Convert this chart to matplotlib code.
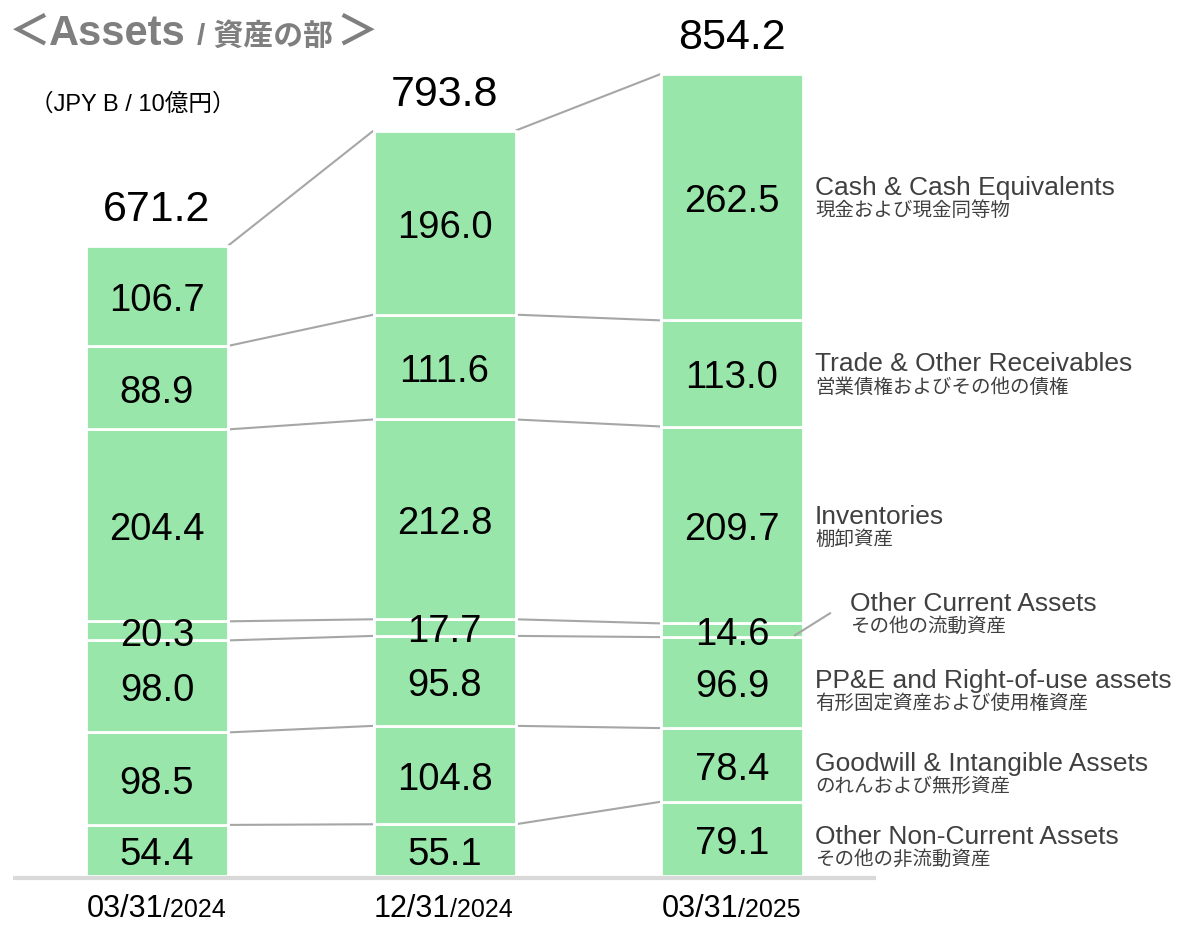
import matplotlib
matplotlib.use("Agg")
import matplotlib.pyplot as plt
import numpy as np

plt.rcParams["font.family"] = ["Liberation Sans", "Noto Sans CJK JP", "DejaVu Sans"]

# ── data (bottom -> top) ───────────────────────────────────────────────────
dates_main = ["03/31", "12/31", "03/31"]
dates_year = ["/2024", "/2024", "/2025"]
categories_en = ["Other Non-Current Assets", "Goodwill & Intangible Assets",
                 "PP&E and Right-of-use assets", "Other Current Assets",
                 "Inventories", "Trade & Other Receivables",
                 "Cash & Cash Equivalents"]
categories_jp = ["その他の非流動資産", "のれんおよび無形資産",
                 "有形固定資産および使用権資産", "その他の流動資産",
                 "棚卸資産", "営業債権およびその他の債権",
                 "現金および現金同等物"]
fy2024 = [54.4, 98.5, 98.0, 20.3, 204.4, 88.9, 106.7]
dec2024 = [55.1, 104.8, 95.8, 17.7, 212.8, 111.6, 196.0]
fy2025 = [79.1, 78.4, 96.9, 14.6, 209.7, 113.0, 262.5]
totals = [671.2, 793.8, 854.2]

series = [fy2024, dec2024, fy2025]

GREEN = "#98E6AA"
LINE = "#a6a6a6"
LABEL = "#404040"
W, H = 1178, 925
PX_X = 287.5      # pixels per bar step
PX_Y = 0.939      # pixels per JPY B
BASE = 876        # baseline pixel row

fig = plt.figure(figsize=(W / 100, H / 100), dpi=100)
ax = fig.add_axes([0, 0, 1, 1])
ax.set_xlim(-157 / PX_X, (W - 157) / PX_X)
ax.set_ylim(-(H - BASE) / PX_Y, BASE / PX_Y)
ax.axis("off")

bw = 142 / PX_X
x = np.arange(len(series))

# stacked bars
cums = []
for i, vals in enumerate(series):
    bottom = 0.0
    cum = []
    for v in vals:
        ax.bar(x[i], v, bw, bottom=bottom, color=GREEN, edgecolor="white",
               linewidth=2, zorder=2)
        ax.annotate(f"{v:.1f}", xy=(x[i], bottom + v / 2), xytext=(0, -3.5),
                    textcoords="offset points", ha="center", va="center",
                    fontsize=27.5, color="black", zorder=4)
        bottom += v
        cum.append(bottom)
    cums.append(cum)
    ax.annotate(f"{totals[i]:.1f}", xy=(x[i], totals[i]), xytext=(0, 18),
                textcoords="offset points", ha="center", va="baseline",
                fontsize=31, color="black")

# connector lines between bars
for i in range(len(series) - 1):
    for k in range(len(categories_en)):
        ax.plot([x[i] + bw / 2, x[i + 1] - bw / 2], [cums[i][k], cums[i + 1][k]],
                color=LINE, lw=1.5, zorder=1, solid_capstyle="butt")

# baseline
ax.plot([(13 - 157) / PX_X, (876 - 157) / PX_X], [-2 / PX_Y, -2 / PX_Y],
        color="#d9d9d9", lw=3, solid_capstyle="butt", zorder=3)

# right-hand category labels
last = series[-1]
dy_px = [-5, -6, -5, None, 1, 2, 2]
bottom = 0.0
for k, v in enumerate(last):
    center = bottom + v / 2
    bottom += v
    xr = x[-1] + bw / 2
    if dy_px[k] is None:
        # small segment: label raised with a leader line
        ax.plot([xr - 8 / PX_X, xr + 27 / PX_X],
                [center - 5 / PX_Y, center + 17 / PX_Y], color=LINE, lw=1.5, zorder=5)
        tx, ty = 47, 19
    else:
        tx, ty = 12, dy_px[k]
    ax.annotate(categories_en[k], xy=(xr, center), xytext=(tx * 0.72, ty * 0.72),
                textcoords="offset points", ha="left", va="baseline",
                fontsize=19, color=LABEL)
    ax.annotate(categories_jp[k], xy=(xr, center), xytext=(tx * 0.72, (ty - 21) * 0.72),
                textcoords="offset points", ha="left", va="baseline",
                fontsize=14, color=LABEL)

# date labels (large month/day, small year)
for i in range(len(series)):
    split = x[i] + 6 / PX_X
    ax.text(split, -41 / PX_Y, dates_main[i], ha="right", va="baseline",
            fontsize=22, color="black")
    ax.text(split, -41 / PX_Y, dates_year[i], ha="left", va="baseline",
            fontsize=18, color="black")

# title and unit
def fx(px):
    return px / W

def fy(py):
    return 1 - py / H

TITLE = "#7f7f7f"
fig.text(fx(9), fy(45), "＜", fontsize=30, fontweight="bold", color=TITLE,
         family=["Noto Sans CJK JP"], va="baseline")
fig.text(fx(49), fy(45), "Assets", fontsize=30, fontweight="bold", color=TITLE,
         va="baseline")
fig.text(fx(197), fy(45), "/ 資産の部", fontsize=21.5, fontweight="bold", color=TITLE,
         va="baseline")
fig.text(fx(336), fy(45), "＞", fontsize=30, fontweight="bold", color=TITLE,
         family=["Noto Sans CJK JP"], va="baseline")
fig.text(fx(30), fy(111), "（JPY B / 10億円）", fontsize=17, color="black",
         va="baseline")

fig.savefig("out.png", dpi=100)
